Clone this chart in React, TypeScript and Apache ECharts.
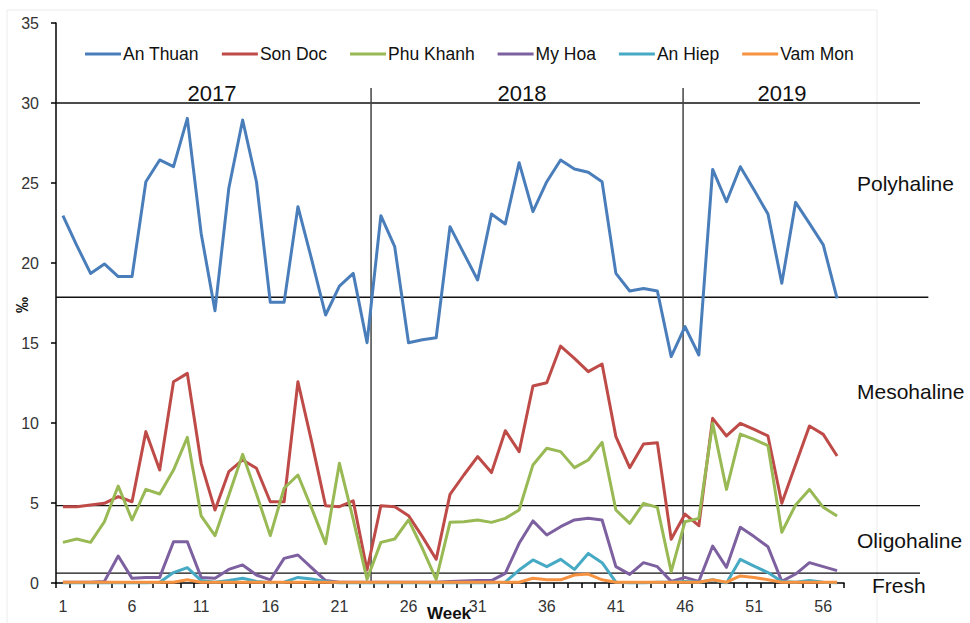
import React, { useEffect, useRef } from "react";
import * as echarts from "echarts";

const weeks = Array.from({ length: 57 }, (_, i) => String(i + 1));

const seriesNames = ["An Thuan", "Son Doc", "Phu Khanh", "My Hoa", "An Hiep", "Vam Mon"];
const seriesColors = ["#4A7EBB", "#BE4B48", "#98B954", "#7D60A0", "#46AAC5", "#F69240"];

const anThuan = [22.96, 21.1, 19.35, 19.94, 19.15, 19.15, 25.08, 26.44, 26.02, 29.04,
  21.85, 17.02, 24.67, 28.94, 25.08, 17.54, 17.54, 23.52, 20.2, 16.75,
  18.56, 19.35, 15.02, 22.96, 21.02, 15.02, 15.2, 15.33, 22.27, 20.6,
  18.94, 23.06, 22.44, 26.27, 23.21, 25.08, 26.44, 25.87, 25.67, 25.08,
  19.35, 18.25, 18.4, 18.25, 14.15, 16.02, 14.25, 25.85, 23.83, 26.02,
  24.56, 23.06, 18.73, 23.79, 22.48, 21.13, 17.79];
const sonDoc = [4.77, 4.77, 4.87, 4.98, 5.4, 5.08, 9.46, 7.06, 12.58, 13.1,
  7.48, 4.56, 6.96, 7.69, 7.17, 5.08, 5.08, 12.58, 8.8, 4.83,
  4.77, 5.13, 0.81, 4.83, 4.77, 4.21, 2.9, 1.48, 5.54, 6.75,
  7.9, 6.9, 9.52, 8.21, 12.31, 12.52, 14.81, 14.04, 13.21, 13.69,
  9.15, 7.21, 8.69, 8.77, 2.73, 4.31, 3.58, 10.29, 9.19, 9.98,
  9.6, 9.19, 4.98, 7.4, 9.81, 9.29, 7.94];
const phuKhanh = [2.54, 2.75, 2.54, 3.83, 6.06, 3.94, 5.85, 5.56, 7.06, 9.1,
  4.19, 2.96, 5.48, 8.04, 5.56, 2.96, 5.92, 6.75, 4.65, 2.46,
  7.48, 3.98, 0.23, 2.54, 2.75, 3.94, 2.17, 0.23, 3.79, 3.83,
  3.94, 3.79, 4.04, 4.56, 7.38, 8.42, 8.21, 7.21, 7.69, 8.79,
  4.56, 3.73, 4.98, 4.73, 0.71, 3.83, 4.04, 9.98, 5.85, 9.31,
  8.98, 8.58, 3.17, 4.88, 5.85, 4.73, 4.19];
const myHoa = [0.05, 0.05, 0.05, 0.1, 1.69, 0.29, 0.35, 0.35, 2.58, 2.58,
  0.35, 0.29, 0.85, 1.13, 0.5, 0.19, 1.54, 1.75, 0.95, 0.15,
  0.05, 0.05, 0.05, 0.05, 0.05, 0.05, 0.05, 0.05, 0.1, 0.12,
  0.15, 0.15, 0.6, 2.48, 3.88, 3.0, 3.52, 3.94, 4.04, 3.94,
  1.02, 0.54, 1.27, 1.02, 0.1, 0.35, 0.1, 2.31, 0.98, 3.48,
  2.9, 2.27, 0.1, 0.56, 1.27, 1.02, 0.77];
const anHiep = [0, 0, 0, 0, 0, 0, 0, 0.05, 0.65, 0.96,
  0.15, 0.05, 0.15, 0.3, 0.1, 0.02, 0.05, 0.35, 0.25, 0.1,
  0, 0, 0, 0, 0, 0, 0, 0, 0, 0,
  0, 0, 0.05, 0.81, 1.44, 1.02, 1.48, 0.85, 1.85, 1.27,
  0.05, 0, 0, 0.05, 0.05, 0.1, 0.05, 0.2, 0, 1.48,
  1.06, 0.65, 0.1, 0.05, 0.15, 0.05, 0];
const vamMon = [0.05, 0.05, 0.05, 0.05, 0.05, 0.05, 0.05, 0.05, 0.05, 0.2,
  0.05, 0.05, 0.05, 0.05, 0.05, 0.05, 0.05, 0.05, 0.05, 0.05,
  0.05, 0.05, 0.05, 0.05, 0.05, 0.05, 0.05, 0.05, 0.05, 0.05,
  0.05, 0.05, 0.05, 0.05, 0.3, 0.2, 0.2, 0.5, 0.56, 0.2,
  0.05, 0.05, 0.05, 0.05, 0.05, 0.05, 0.05, 0.2, 0.05, 0.44,
  0.35, 0.2, 0.05, 0.05, 0.05, 0.05, 0.05];

const allSeries = [anThuan, sonDoc, phuKhanh, myHoa, anHiep, vamMon];

// zone boundary lines (salinity, ‰) and the week where each extends to
const zoneLevels = [30, 17.86, 4.83, 0.62];
const zoneLineEnds = [63.0, 63.6, 63.0, 63.0];
// year dividers (week position) and top of those dividers (‰)
const yearDividers = [23.29, 45.86];
const dividerTop = 30.94;

const yearLabels = ["2017", "2018", "2019"];
const zoneLabels = ["Polyhaline", "Mesohaline", "Oligohaline", "Fresh"];

const FONT = "'Liberation Sans', Arial, sans-serif";

export default function App() {
  const ref = useRef<HTMLDivElement>(null);
  useEffect(() => {
    if (!ref.current) return;
    const chart = echarts.init(ref.current, null, { renderer: "svg" });
    chart.setOption({
      animation: false,
      backgroundColor: "#ffffff",
      textStyle: { fontFamily: FONT },
      grid: { left: 56, right: 126, top: 23, bottom: 40, containLabel: false },
      legend: {
        left: 80,
        top: 40,
        itemWidth: 36,
        itemHeight: 3,
        itemGap: 23,
        icon: "rect",
        data: seriesNames,
        textStyle: { fontSize: 17.5, color: "#111", fontFamily: FONT, padding: [0, 0, 0, -3] },
      },
      xAxis: [
        {
          type: "category",
          data: weeks,
          boundaryGap: true,
          axisLine: { lineStyle: { color: "#000", width: 1.5 } },
          axisTick: { show: true, interval: 0, length: 5, lineStyle: { color: "#000", width: 1.5 } },
          axisLabel: { interval: 4, fontSize: 16, color: "#333", margin: 15, fontFamily: FONT },
          splitLine: { show: false },
        },
        {
          type: "value",
          min: 0.5,
          max: 57.5,
          show: false,
          splitLine: { show: false },
        },
      ],
      yAxis: {
        type: "value",
        min: 0,
        max: 35,
        interval: 5,
        axisLine: { show: true, lineStyle: { color: "#000", width: 1.5 } },
        axisTick: { show: true, length: 5, lineStyle: { color: "#000", width: 1.5 } },
        axisLabel: { fontSize: 16, color: "#333", margin: 17, fontFamily: FONT },
        splitLine: { show: false },
      },
      series: seriesNames.map((name, i) => ({
        name,
        type: "line",
        data: allSeries[i],
        symbol: "none",
        color: seriesColors[i],
        lineStyle: { width: 3, color: seriesColors[i], join: "round" },
        z: 3 + i,
      })),
    });

    const px = (week: number, val: number) =>
      chart.convertToPixel({ xAxisIndex: 1, yAxisIndex: 0 } as any, [week, val]) as number[];
    const origin = px(0.5, 0);

    const graphics: any[] = [];
    graphics.push({
      type: "rect",
      shape: { x: 7, y: 10, width: 870, height: 630 },
      style: { fill: "none", stroke: "#ececec", lineWidth: 1 },
      silent: true,
      z: 0,
    });
    zoneLevels.forEach((lv, i) => {
      const a = px(0.5, lv);
      const b = px(zoneLineEnds[i], lv);
      graphics.push({
        type: "line",
        shape: { x1: origin[0], y1: a[1], x2: b[0], y2: b[1] },
        style: { stroke: "#111", lineWidth: 1.3 },
        z: 2,
      });
    });
    yearDividers.forEach((w) => {
      const a = px(w, 0);
      const b = px(w, dividerTop);
      graphics.push({
        type: "line",
        shape: { x1: a[0], y1: a[1], x2: b[0], y2: b[1] },
        style: { stroke: "#444", lineWidth: 1.5 },
        z: 2,
      });
    });
    const yearX = [212, 522, 782];
    yearLabels.forEach((t, i) => {
      graphics.push({
        type: "text",
        x: yearX[i],
        y: 93,
        style: { text: t, font: `22px ${FONT}`, fill: "#111", align: "center", verticalAlign: "middle" },
        z: 10,
      });
    });
    const zonePos = [[857, 183], [857, 391], [857, 540], [872, 585]];
    zoneLabels.forEach((t, i) => {
      graphics.push({
        type: "text",
        x: zonePos[i][0],
        y: zonePos[i][1],
        style: { text: t, font: `21px ${FONT}`, fill: "#111", align: "left", verticalAlign: "middle" },
        z: 10,
      });
    });
    graphics.push({
      type: "text",
      x: 22,
      y: 305,
      rotation: Math.PI / 2,
      style: { text: "‰", font: `bold 16px ${FONT}`, fill: "#111", align: "center", verticalAlign: "middle" },
      z: 10,
    });
    graphics.push({
      type: "text",
      x: 449,
      y: 613,
      style: { text: "Week", font: `bold 17px ${FONT}`, fill: "#111", align: "center", verticalAlign: "middle" },
      z: 10,
    });
    chart.setOption({ graphic: graphics });

    return () => chart.dispose();
  }, []);
  return <div ref={ref} style={{ width: 970, height: 623, position: "absolute", left: 0, top: 0 }} />;
}
